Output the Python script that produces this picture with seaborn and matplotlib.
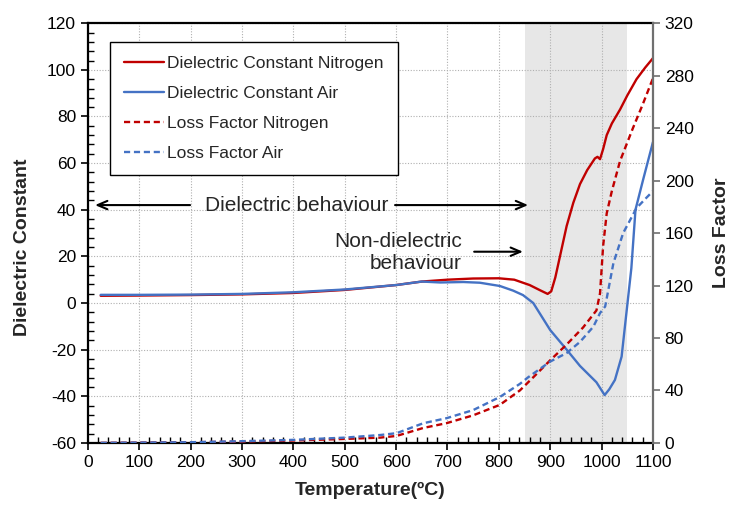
import matplotlib.pyplot as plt
import matplotlib.ticker as mticker
import seaborn as sns

# Dielectric constant, nitrogen atmosphere (left axis)
temp_dc_n = [25, 100, 200, 300, 400, 500, 600, 650, 700, 750, 800, 830, 860, 880, 895,
             902, 910, 920, 932, 945, 958, 972, 987, 992, 997, 1003, 1010, 1020, 1036,
             1050, 1068, 1085, 1100]
dc_n = [3.1, 3.2, 3.4, 3.7, 4.3, 5.6, 7.7, 9.2, 10.0, 10.5, 10.6, 10.0, 7.7, 5.5, 3.9,
        5.0, 11.0, 21.0, 33.0, 43.0, 51.0, 57.0, 62.0, 62.7, 61.7, 66.0, 72.0, 77.0, 83.0,
        89.0, 96.0, 101.0, 105.0]

# Dielectric constant, air atmosphere (left axis)
temp_dc_a = [25, 100, 200, 300, 400, 500, 600, 650, 686, 731, 763, 802, 828, 847, 867,
             900, 932, 958, 990, 1006, 1015, 1026, 1039, 1046, 1058, 1066, 1081, 1100]
dc_a = [3.5, 3.5, 3.6, 3.9, 4.6, 5.8, 7.7, 9.2, 8.8, 9.0, 8.7, 7.3, 5.3, 3.4, 0.0,
        -11.6, -20.0, -27.0, -34.0, -39.5, -37.0, -33.0, -23.0, -9.0, 15.0, 40.0, 53.0, 69.0]

# Loss factor, nitrogen atmosphere (right axis)
temp_lf_n = [25, 200, 300, 400, 500, 569, 601, 653, 698, 750, 802, 841, 867, 900, 932,
             964, 990, 997, 1003, 1010, 1020, 1036, 1061, 1080, 1100]
lf_n = [0.0, 0.5, 1.0, 1.8, 3.0, 4.0, 5.3, 11.4, 15.0, 21.0, 29.0, 40.0, 50.0, 63.0, 75.0,
        88.0, 101.0, 114.0, 150.0, 175.0, 192.0, 215.0, 240.0, 258.0, 278.0]

# Loss factor, air atmosphere (right axis)
temp_lf_a = [25, 200, 300, 400, 500, 569, 601, 653, 698, 750, 802, 841, 857, 900, 932,
             958, 984, 997, 1007, 1023, 1042, 1068, 1085, 1100]
lf_a = [0.0, 0.5, 1.3, 2.3, 4.0, 6.0, 7.4, 15.0, 18.8, 25.0, 35.0, 45.0, 50.0, 62.0, 68.5,
        77.0, 88.6, 99.0, 104.0, 137.0, 160.0, 179.0, 186.0, 192.0]

labels = ["Dielectric Constant Nitrogen", "Dielectric Constant Air",
          "Loss Factor Nitrogen", "Loss Factor Air"]

sns.set_style("ticks")
plt.rcParams["font.family"] = ["Liberation Sans", "DejaVu Sans"]
plt.rcParams["axes.unicode_minus"] = False

RED = "#c00000"
BLUE = "#4472c4"

fig, ax = plt.subplots(figsize=(7.32, 5.05), dpi=100)
fig.subplots_adjust(left=0.120, right=0.892, top=0.954, bottom=0.123)
ax2 = ax.twinx()

# non-dielectric region
ax.axvspan(850, 1050, color="#e7e7e7", zorder=0, lw=0)

sns.lineplot(x=temp_dc_n, y=dc_n, ax=ax, color=RED, lw=1.7, sort=False,
             estimator=None, legend=False, label=labels[0])
sns.lineplot(x=temp_dc_a, y=dc_a, ax=ax, color=BLUE, lw=1.7, sort=False,
             estimator=None, legend=False, label=labels[1])
sns.lineplot(x=temp_lf_n, y=lf_n, ax=ax2, color=RED, lw=1.7, sort=False,
             estimator=None, legend=False, label=labels[2], dashes=False)
sns.lineplot(x=temp_lf_a, y=lf_a, ax=ax2, color=BLUE, lw=1.7, sort=False,
             estimator=None, legend=False, label=labels[3], dashes=False)
for line in ax2.get_lines():
    line.set_linestyle((0, (2.6, 1.6)))

ax.set_xlim(0, 1100)
ax.set_ylim(-60, 120)
ax2.set_ylim(0, 320)

ax.xaxis.set_major_locator(mticker.MultipleLocator(100))
ax.xaxis.set_minor_locator(mticker.MultipleLocator(20))
ax.yaxis.set_major_locator(mticker.MultipleLocator(20))
ax.yaxis.set_minor_locator(mticker.MultipleLocator(4))
ax2.yaxis.set_major_locator(mticker.MultipleLocator(40))

ax.grid(True, which="major", color="#b0b0b0", ls=(0, (1, 1.5)), lw=0.8)

ax.tick_params(which="major", direction="out", length=5, width=1.2,
               labelsize=12.5, colors="black")
ax.tick_params(which="minor", direction="in", length=4, width=1.0, colors="black")
ax2.tick_params(axis="y", direction="out", length=5, width=1.2, labelsize=12.5,
                color="#707070", labelcolor="black")

for side in ["left", "bottom", "top"]:
    ax.spines[side].set_color("black")
    ax.spines[side].set_linewidth(1.6)
ax.spines["right"].set_visible(False)
for side in ["left", "bottom", "top"]:
    ax2.spines[side].set_visible(False)
ax2.spines["right"].set_color("#707070")
ax2.spines["right"].set_linewidth(1.6)

ax.set_xlabel("Temperature(ºC)", fontsize=14, fontweight="bold", labelpad=9)
ax.set_ylabel("Dielectric Constant", fontsize=14, fontweight="bold")
ax.yaxis.set_label_coords(-0.100, 0.467)
ax2.set_ylabel("Loss Factor", fontsize=14, fontweight="bold", labelpad=14)

# annotations
arrow_kw = dict(arrowstyle="->,head_length=0.7,head_width=0.3", color="black", lw=1.5,
                shrinkA=0, shrinkB=0)
ax.text(407, 42, "Dielectric behaviour", fontsize=15, ha="center", va="center")
ax.annotate("", xy=(14, 42), xytext=(199, 42), arrowprops=arrow_kw)
ax.annotate("", xy=(857, 42), xytext=(598, 42), arrowprops=arrow_kw)
ax.text(728, 21.6, "Non-dielectric\nbehaviour", fontsize=15, ha="right", va="center",
        multialignment="right", linespacing=1.2)
ax.annotate("", xy=(847, 22), xytext=(752, 22), arrowprops=arrow_kw)

h1, l1 = ax.get_legend_handles_labels()
h2, l2 = ax2.get_legend_handles_labels()
leg = ax2.legend(h1 + h2, l1 + l2, loc="upper left", bbox_to_anchor=(0.039, 0.955),
                 fontsize=12.5, frameon=True, fancybox=False, edgecolor="black",
                 framealpha=1, labelspacing=0.85, handlelength=2.3, handletextpad=0.2,
                 borderpad=0.8, borderaxespad=0)
leg.get_frame().set_linewidth(1.0)

plt.savefig("out.png", dpi=100)
plt.close()
